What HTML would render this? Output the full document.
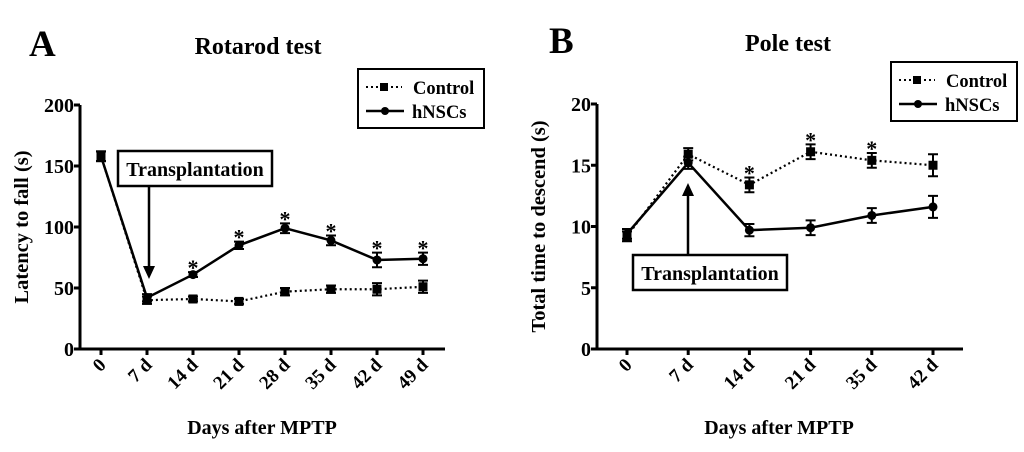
<!DOCTYPE html>
<html><head><meta charset="utf-8">
<style>
html,body{margin:0;padding:0;background:#fff;width:1024px;height:452px;overflow:hidden}
svg text{font-family:"Liberation Serif",serif;font-weight:bold;fill:#000}
</style></head>
<body>
<svg id="fig" width="1024" height="452" viewBox="0 0 1024 452" xmlns="http://www.w3.org/2000/svg">
  <g id="panelA"></g>
  <g id="panelB"></g>
</svg>
<script>
// Panel A data
const catsA = ["0","7 d","14 d","21 d","28 d","35 d","42 d","49 d"];
const ctrlA = [158,40,41,39,47,49,49,51];
const ctrlErrA = [4,3,2,2,3,3,5,5];
const hnscA = [158,42,61,85,99,89,73,74];
const hnscErrA = [4,3,2,3,4,4,6,5];
const starsA = [2,3,4,5,6,7];
const ticksA = [0,50,100,150,200];
// Panel B data
const catsB = ["0","7 d","14 d","21 d","35 d","42 d"];
const ctrlB = [9.2,15.9,13.4,16.1,15.4,15.0];
const ctrlErrB = [0.4,0.5,0.6,0.6,0.6,0.9];
const hnscB = [9.4,15.2,9.7,9.9,10.9,11.6];
const hnscErrB = [0.4,0.5,0.5,0.6,0.6,0.9];
const starsB = [2,3,4];
const ticksB = [0,5,10,15,20];

const NS="http://www.w3.org/2000/svg";
function mk(parent,tag,attrs,text){
  const e=document.createElementNS(NS,tag);
  for(const k in attrs) e.setAttribute(k,attrs[k]);
  if(text!==undefined) e.textContent=text;
  parent.appendChild(e); return e;
}

function panel(g,cfg){
  const {x0,x1,yTop,yBot,ymax,cats,xFirst,xStep,ticks,ctrl,ctrlErr,hnsc,hnscErr,stars,starSeries,ylabel,ylabelX,title,titleX,titleY,letter,letterX,letterY,xtitleX,legX,legY} = cfg;
  const sx=i=>xFirst+i*xStep;
  const sy=v=>yBot-(v/ymax)*(yBot-yTop);
  let e;
  e=mk(g,"text",{x:letterX,y:letterY,"font-size":37});e.textContent=letter;
  
  
  e=mk(g,"text",{x:titleX,y:titleY,"font-size":24,"text-anchor":"middle"},title);
  
  
  e=mk(g,"path",{d:`M${x0} ${yTop} V${yBot} H${x1}`,stroke:"#000","stroke-width":3,fill:"none"});
  
  
  ticks.forEach(t=>{
    e=mk(g,"line",{x1:x0-6,x2:x0,y1:sy(t),y2:sy(t),stroke:"#000","stroke-width":3});
    
    
    e=mk(g,"text",{x:x0-6,y:sy(t)+7,"font-size":20,"text-anchor":"end"},String(t));
    
    
  });
  cats.forEach((c,i)=>{
    e=mk(g,"line",{x1:sx(i),x2:sx(i),y1:yBot,y2:yBot+6,stroke:"#000","stroke-width":3});
    
    
    e=mk(g,"text",{x:0,y:0,"font-size":19,"text-anchor":"end",transform:`translate(${sx(i)+6},${yBot+17}) rotate(-45)`},c);
    
    
  });
  e=mk(g,"text",{x:0,y:0,"font-size":20.5,"text-anchor":"middle",transform:`translate(${ylabelX},${(yTop+yBot)/2}) rotate(-90)`},ylabel);
  
  
  e=mk(g,"text",{x:xtitleX,y:434,"font-size":20,"text-anchor":"middle"},"Days after MPTP");
  
  
  function series(vals,errs,dash,marker,name){
    const d=vals.map((v,i)=>(i?"L":"M")+sx(i)+" "+sy(v)).join(" ");
    e=mk(g,"path",{d,stroke:"#000","stroke-width":dash?2.2:2.5,fill:"none","stroke-dasharray":dash?"2 3":"none"});
    
    
    vals.forEach((v,i)=>{
      const x=sx(i),y1=sy(v+errs[i]),y2=sy(v-errs[i]);
      e=mk(g,"path",{d:`M${x} ${y1} V${y2} M${x-5} ${y1} H${x+5} M${x-5} ${y2} H${x+5}`,stroke:"#000","stroke-width":2,fill:"none"});
      
      
      if(marker==="sq") e=mk(g,"rect",{x:x-4.5,y:sy(v)-4.5,width:9,height:9,fill:"#000"});
      else e=mk(g,"circle",{cx:x,cy:sy(v),r:4.5,fill:"#000"});
      
      
    });
  }
  series(ctrl,ctrlErr,true,"sq","control");
  series(hnsc,hnscErr,false,"ci","hnscs");
  const sv = starSeries==="h"?hnsc:ctrl, se = starSeries==="h"?hnscErr:ctrlErr;
  stars.forEach(i=>{
    e=mk(g,"text",{x:sx(i),y:sy(sv[i]+se[i])+3,"font-size":22,"text-anchor":"middle"},"*");
    
    
  });
  const lg=mk(g,"g",{});
  
  
  mk(lg,"rect",{x:legX,y:legY,width:126,height:59,fill:"#fff",stroke:"#000","stroke-width":2});
  mk(lg,"line",{x1:legX+8,x2:legX+44,y1:legY+18,y2:legY+18,stroke:"#000","stroke-width":2,"stroke-dasharray":"2 3"});
  mk(lg,"rect",{x:legX+22,y:legY+14,width:8,height:8,fill:"#000"});
  e=mk(lg,"text",{x:legX+55,y:legY+25,"font-size":18.5},"Control");
  
  
  mk(lg,"line",{x1:legX+8,x2:legX+46,y1:legY+42,y2:legY+42,stroke:"#000","stroke-width":2.5});
  mk(lg,"circle",{cx:legX+27,cy:legY+42,r:4,fill:"#000"});
  e=mk(lg,"text",{x:legX+54,y:legY+49,"font-size":18.5},"hNSCs");
  
  
  return {sx,sy};
}

const gA=document.getElementById('panelA');
panel(gA,{x0:80,x1:445,yTop:105,yBot:349,ymax:200,cats:catsA,xFirst:101,xStep:46,ticks:ticksA,
  ctrl:ctrlA,ctrlErr:ctrlErrA,hnsc:hnscA,hnscErr:hnscErrA,stars:starsA,starSeries:"h",
  ylabel:"Latency to fall (s)",ylabelX:28,title:"Rotarod test",titleX:258,titleY:54,letter:"A",letterX:29,letterY:56,xtitleX:262,legX:358,legY:69});
const gB=document.getElementById('panelB');
panel(gB,{x0:597,x1:963,yTop:104,yBot:349,ymax:20,cats:catsB,xFirst:627,xStep:61.2,ticks:ticksB,
  ctrl:ctrlB,ctrlErr:ctrlErrB,hnsc:hnscB,hnscErr:hnscErrB,stars:starsB,starSeries:"c",
  ylabel:"Total time to descend (s)",ylabelX:545,title:"Pole test",titleX:788,titleY:51,letter:"B",letterX:549,letterY:53,xtitleX:779,legX:891,legY:62});

let a;
a=mk(gA,"g",{});


mk(a,"rect",{x:118,y:151,width:154,height:35,fill:"#fff",stroke:"#000","stroke-width":2.5});
mk(a,"text",{x:195,y:176,"font-size":20,"text-anchor":"middle"},"Transplantation");
mk(a,"line",{x1:149,x2:149,y1:186,y2:268,stroke:"#000","stroke-width":2.5});
mk(a,"path",{d:"M143 266 L155 266 L149 279 Z",fill:"#000"});
a=mk(gB,"g",{});


mk(a,"rect",{x:633,y:255,width:154,height:35,fill:"#fff",stroke:"#000","stroke-width":2.5});
mk(a,"text",{x:710,y:280,"font-size":20,"text-anchor":"middle"},"Transplantation");
mk(a,"line",{x1:688,x2:688,y1:255,y2:194,stroke:"#000","stroke-width":2.5});
mk(a,"path",{d:"M682 196 L694 196 L688 183 Z",fill:"#000"});
</script>
</body></html>
